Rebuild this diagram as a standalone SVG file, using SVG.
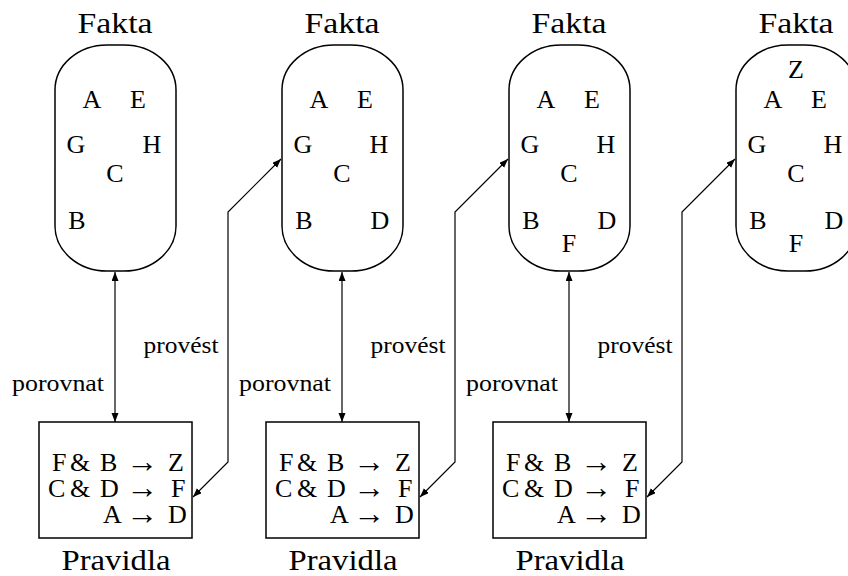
<svg xmlns="http://www.w3.org/2000/svg" width="848" height="576" viewBox="0 0 848 576">
<defs>
<marker id="ah" markerUnits="userSpaceOnUse" markerWidth="10" markerHeight="8" refX="9" refY="3.5" orient="auto-start-reverse">
<path d="M0,0 L9,3.5 L0,7 z" fill="#000"/>
</marker>
</defs>

<g id="fakta1">
<text style="font-family:'Liberation Serif',serif" font-size="30" text-anchor="middle" x="115" y="33" textLength="75" lengthAdjust="spacingAndGlyphs">Fakta</text>
<rect fill="none" stroke="#000" stroke-width="1.5" x="55" y="45" width="121" height="226" rx="52" ry="45"/>
<text style="font-family:'Liberation Serif',serif" font-size="26" text-anchor="middle" x="92" y="108">A</text>
<text style="font-family:'Liberation Serif',serif" font-size="26" text-anchor="middle" x="138" y="108">E</text>
<text style="font-family:'Liberation Serif',serif" font-size="26" text-anchor="middle" x="76" y="153">G</text>
<text style="font-family:'Liberation Serif',serif" font-size="26" text-anchor="middle" x="152" y="153">H</text>
<text style="font-family:'Liberation Serif',serif" font-size="26" text-anchor="middle" x="115" y="182">C</text>
<text style="font-family:'Liberation Serif',serif" font-size="26" text-anchor="middle" x="77" y="229">B</text>
</g>
<g id="fakta2">
<text style="font-family:'Liberation Serif',serif" font-size="30" text-anchor="middle" x="342" y="33" textLength="75" lengthAdjust="spacingAndGlyphs">Fakta</text>
<rect fill="none" stroke="#000" stroke-width="1.5" x="282" y="45" width="121" height="226" rx="52" ry="45"/>
<text style="font-family:'Liberation Serif',serif" font-size="26" text-anchor="middle" x="319" y="108">A</text>
<text style="font-family:'Liberation Serif',serif" font-size="26" text-anchor="middle" x="365" y="108">E</text>
<text style="font-family:'Liberation Serif',serif" font-size="26" text-anchor="middle" x="303" y="153">G</text>
<text style="font-family:'Liberation Serif',serif" font-size="26" text-anchor="middle" x="379" y="153">H</text>
<text style="font-family:'Liberation Serif',serif" font-size="26" text-anchor="middle" x="342" y="182">C</text>
<text style="font-family:'Liberation Serif',serif" font-size="26" text-anchor="middle" x="304" y="229">B</text>
<text style="font-family:'Liberation Serif',serif" font-size="26" text-anchor="middle" x="380" y="229">D</text>
</g>
<g id="fakta3">
<text style="font-family:'Liberation Serif',serif" font-size="30" text-anchor="middle" x="569" y="33" textLength="75" lengthAdjust="spacingAndGlyphs">Fakta</text>
<rect fill="none" stroke="#000" stroke-width="1.5" x="509" y="45" width="121" height="226" rx="52" ry="45"/>
<text style="font-family:'Liberation Serif',serif" font-size="26" text-anchor="middle" x="546" y="108">A</text>
<text style="font-family:'Liberation Serif',serif" font-size="26" text-anchor="middle" x="592" y="108">E</text>
<text style="font-family:'Liberation Serif',serif" font-size="26" text-anchor="middle" x="530" y="153">G</text>
<text style="font-family:'Liberation Serif',serif" font-size="26" text-anchor="middle" x="606" y="153">H</text>
<text style="font-family:'Liberation Serif',serif" font-size="26" text-anchor="middle" x="569" y="182">C</text>
<text style="font-family:'Liberation Serif',serif" font-size="26" text-anchor="middle" x="531" y="229">B</text>
<text style="font-family:'Liberation Serif',serif" font-size="26" text-anchor="middle" x="607" y="229">D</text>
<text style="font-family:'Liberation Serif',serif" font-size="26" text-anchor="middle" x="569" y="252">F</text>
</g>
<g id="fakta4">
<text style="font-family:'Liberation Serif',serif" font-size="30" text-anchor="middle" x="796" y="33" textLength="75" lengthAdjust="spacingAndGlyphs">Fakta</text>
<rect fill="none" stroke="#000" stroke-width="1.5" x="736" y="45" width="121" height="226" rx="52" ry="45"/>
<text style="font-family:'Liberation Serif',serif" font-size="26" text-anchor="middle" x="796" y="78">Z</text>
<text style="font-family:'Liberation Serif',serif" font-size="26" text-anchor="middle" x="773" y="108">A</text>
<text style="font-family:'Liberation Serif',serif" font-size="26" text-anchor="middle" x="819" y="108">E</text>
<text style="font-family:'Liberation Serif',serif" font-size="26" text-anchor="middle" x="757" y="153">G</text>
<text style="font-family:'Liberation Serif',serif" font-size="26" text-anchor="middle" x="833" y="153">H</text>
<text style="font-family:'Liberation Serif',serif" font-size="26" text-anchor="middle" x="796" y="182">C</text>
<text style="font-family:'Liberation Serif',serif" font-size="26" text-anchor="middle" x="758" y="229">B</text>
<text style="font-family:'Liberation Serif',serif" font-size="26" text-anchor="middle" x="834" y="229">D</text>
<text style="font-family:'Liberation Serif',serif" font-size="26" text-anchor="middle" x="796" y="252">F</text>
</g>

<g id="pravidla1">
<rect fill="none" stroke="#000" stroke-width="1.5" x="39" y="422" width="153" height="116"/>
<text style="font-family:'Liberation Serif',serif" font-size="26" y="471"><tspan x="52">F</tspan><tspan x="70">&amp;</tspan><tspan x="100">B</tspan><tspan x="126" font-size="32" dy="1">→</tspan><tspan x="168" dy="-1">Z</tspan></text>
<text style="font-family:'Liberation Serif',serif" font-size="26" y="497"><tspan x="48">C</tspan><tspan x="70">&amp;</tspan><tspan x="100">D</tspan><tspan x="126" font-size="32" dy="1">→</tspan><tspan x="171" dy="-1">F</tspan></text>
<text style="font-family:'Liberation Serif',serif" font-size="26" y="523"><tspan x="103">A</tspan><tspan x="126" font-size="32" dy="1">→</tspan><tspan x="168" dy="-1">D</tspan></text>
<text style="font-family:'Liberation Serif',serif" font-size="30" text-anchor="middle" x="116" y="570" textLength="109" lengthAdjust="spacingAndGlyphs">Pravidla</text>
</g>
<g id="pravidla2">
<rect fill="none" stroke="#000" stroke-width="1.5" x="266" y="422" width="153" height="116"/>
<text style="font-family:'Liberation Serif',serif" font-size="26" y="471"><tspan x="279">F</tspan><tspan x="297">&amp;</tspan><tspan x="327">B</tspan><tspan x="353" font-size="32" dy="1">→</tspan><tspan x="395" dy="-1">Z</tspan></text>
<text style="font-family:'Liberation Serif',serif" font-size="26" y="497"><tspan x="275">C</tspan><tspan x="297">&amp;</tspan><tspan x="327">D</tspan><tspan x="353" font-size="32" dy="1">→</tspan><tspan x="398" dy="-1">F</tspan></text>
<text style="font-family:'Liberation Serif',serif" font-size="26" y="523"><tspan x="330">A</tspan><tspan x="353" font-size="32" dy="1">→</tspan><tspan x="395" dy="-1">D</tspan></text>
<text style="font-family:'Liberation Serif',serif" font-size="30" text-anchor="middle" x="343" y="570" textLength="109" lengthAdjust="spacingAndGlyphs">Pravidla</text>
</g>
<g id="pravidla3">
<rect fill="none" stroke="#000" stroke-width="1.5" x="493" y="422" width="153" height="116"/>
<text style="font-family:'Liberation Serif',serif" font-size="26" y="471"><tspan x="506">F</tspan><tspan x="524">&amp;</tspan><tspan x="554">B</tspan><tspan x="580" font-size="32" dy="1">→</tspan><tspan x="622" dy="-1">Z</tspan></text>
<text style="font-family:'Liberation Serif',serif" font-size="26" y="497"><tspan x="502">C</tspan><tspan x="524">&amp;</tspan><tspan x="554">D</tspan><tspan x="580" font-size="32" dy="1">→</tspan><tspan x="625" dy="-1">F</tspan></text>
<text style="font-family:'Liberation Serif',serif" font-size="26" y="523"><tspan x="557">A</tspan><tspan x="580" font-size="32" dy="1">→</tspan><tspan x="622" dy="-1">D</tspan></text>
<text style="font-family:'Liberation Serif',serif" font-size="30" text-anchor="middle" x="570" y="570" textLength="109" lengthAdjust="spacingAndGlyphs">Pravidla</text>
</g>

<g id="connectors" fill="none" stroke="#000" stroke-width="1.2" marker-start="url(#ah)" marker-end="url(#ah)">
<line x1="115" y1="272" x2="115" y2="422"/>
<line x1="342" y1="272" x2="342" y2="422"/>
<line x1="569" y1="272" x2="569" y2="422"/>
<polyline points="281,159 228,212 228,462 193,497"/>
<polyline points="508,159 455,212 455,462 420,497"/>
<polyline points="735,159 682,212 682,462 647,497"/>
</g>
<g id="labels">
<text style="font-family:'Liberation Serif',serif" font-size="23" text-anchor="middle" x="58" y="391" textLength="92" lengthAdjust="spacingAndGlyphs">porovnat</text>
<text style="font-family:'Liberation Serif',serif" font-size="23" text-anchor="middle" x="285" y="391" textLength="92" lengthAdjust="spacingAndGlyphs">porovnat</text>
<text style="font-family:'Liberation Serif',serif" font-size="23" text-anchor="middle" x="512" y="391" textLength="92" lengthAdjust="spacingAndGlyphs">porovnat</text>
<text style="font-family:'Liberation Serif',serif" font-size="23" text-anchor="middle" x="181" y="353" textLength="75" lengthAdjust="spacingAndGlyphs">provést</text>
<text style="font-family:'Liberation Serif',serif" font-size="23" text-anchor="middle" x="408" y="353" textLength="75" lengthAdjust="spacingAndGlyphs">provést</text>
<text style="font-family:'Liberation Serif',serif" font-size="23" text-anchor="middle" x="635" y="353" textLength="75" lengthAdjust="spacingAndGlyphs">provést</text>
</g>
</svg>
